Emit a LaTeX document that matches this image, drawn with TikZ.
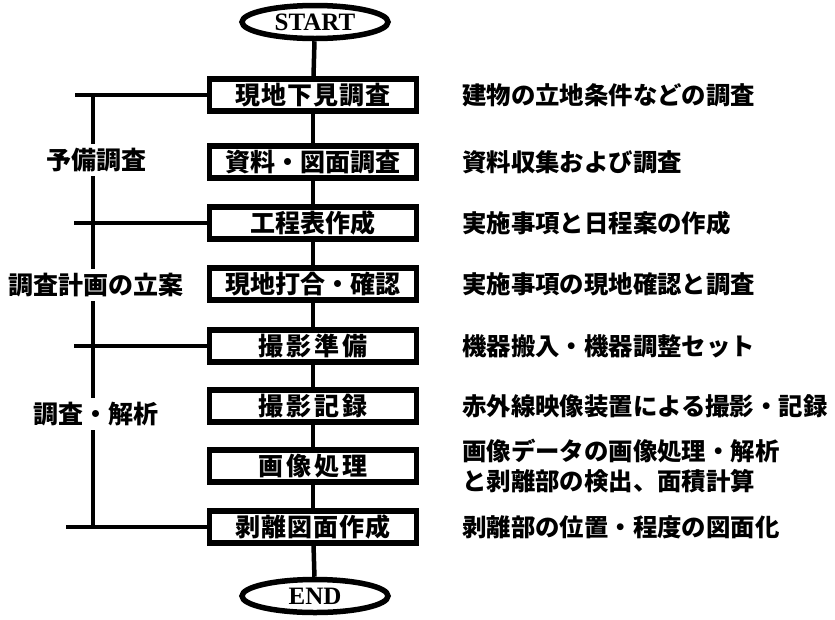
\documentclass[tikz,border=0pt]{standalone}
\usepackage{fontspec}
\newfontfamily\jp{Noto Sans CJK JP}
\newfontfamily\serifb{Liberation Serif}
\usetikzlibrary{shapes.geometric}
\newcommand\gp{\hspace{3pt}}
\newcommand\gs{\hspace{1pt}}
\begin{document}
\begin{tikzpicture}[x=1pt,y=-1pt,
  stepbox/.style={draw, line width=5.5pt, minimum width=207pt, minimum height=32pt, inner sep=0pt,
    font=\jp\bfseries\fontsize{25}{28}\selectfont},
  term/.style={ellipse, draw, line width=5.5pt, minimum width=146pt, minimum height=33pt, inner sep=0pt,
    font=\serifb\bfseries\fontsize{25}{28}\selectfont},
  link/.style={line width=4.5pt},
  desc/.style={anchor=west, inner sep=0pt, align=left, font=\jp\bfseries\fontsize{24.4}{30}\selectfont},
  phase/.style={inner xsep=0pt, inner ysep=4pt, font=\jp\bfseries\fontsize{25}{28}\selectfont}]
\useasboundingbox (0,0) rectangle (835,619);

% terminals and steps
\node[term] (s) at (315,22) {START};
\node[stepbox] (b1) at (313,95) {現\gs 地\gs 下\gs 見\gs 調\gs 査};
\node[stepbox] (b2) at (313,162) {資料・図面調査};
\node[stepbox] (b3) at (313,223) {工程表作成};
\node[stepbox] (b4) at (313,284) {現地打合・確認};
\node[stepbox] (b5) at (313,346) {撮\gp 影\gp 準\gp 備};
\node[stepbox] (b6) at (313,406) {撮\gp 影\gp 記\gp 録};
\node[stepbox] (b7) at (313,466) {画\gp 像\gp 処\gp 理};
\node[stepbox] (b8) at (313,527) {剥\gs 離\gs 図\gs 面\gs 作\gs 成};
\node[term] (e) at (315,596) {END};

% main flow
\draw[link] (s) -- (b1);
\draw[link] (b1) -- (b2);
\draw[link] (b2) -- (b3);
\draw[link] (b3) -- (b4);
\draw[link] (b4) -- (b5);
\draw[link] (b5) -- (b6);
\draw[link] (b6) -- (b7);
\draw[link] (b7) -- (b8);
\draw[link] (b8) -- (e);

% descriptions
\node[desc] (d1) at (462,95) {建物の立地条件などの調査};
\node[desc] (d2) at (462,162) {資料収集および調査};
\node[desc] (d3) at (462,223) {実施事項と日程案の作成};
\node[desc] (d4) at (462,284) {実施事項の現地確認と調査};
\node[desc] (d5) at (462,346) {機器搬入・機器調整セット};
\node[desc] (d6) at (462,406) {赤外線映像装置による撮影・記録};
\node[desc] (d7) at (462,466) {画像データの画像処理・解析\\と剥離部の検出、面積計算};
\node[desc] (d8) at (462,527) {剥離部の位置・程度の図面化};

% phase labels
\node[phase] (p1) at (96,160) {予備調査};
\node[phase] (p2) at (96,285) {調査計画の立案};
\node[phase] (p3) at (96,414) {調査・解析};

% bracket
\coordinate (v1) at (93,95);
\coordinate (v8) at (93,527);
\coordinate (h1) at (75,95);
\coordinate (h3) at (74,223);
\coordinate (h5) at (74,346);
\coordinate (h8) at (66,527);
\draw[link] (h1) -- (b1.west);
\draw[link] (h3) -- (b3.west);
\draw[link] (h5) -- (b5.west);
\draw[link] (h8) -- (b8.west);
\draw[link] (v1) -- (v1 |- p1.north);
\draw[link] (v1 |- p1.south) -- (v1 |- p2.north);
\draw[link] (v1 |- p2.south) -- (v1 |- p3.north);
\draw[link] (v1 |- p3.south) -- (v8);
\end{tikzpicture}
\end{document}
